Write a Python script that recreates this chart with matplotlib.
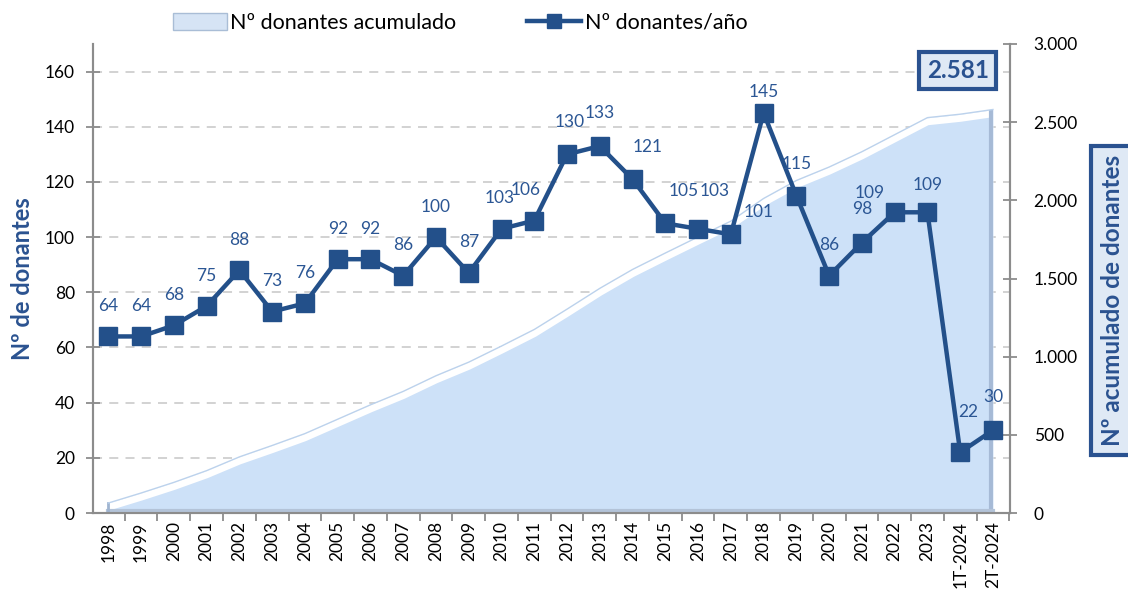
import matplotlib
matplotlib.use("Agg")
import matplotlib.pyplot as plt
import matplotlib.transforms as mtransforms
from matplotlib.lines import Line2D
from matplotlib.patches import Patch
from matplotlib.ticker import FuncFormatter, FixedLocator

plt.rcParams['font.family'] = ['Lato', 'DejaVu Sans']

categories = ['1998', '1999', '2000', '2001', '2002', '2003', '2004', '2005', '2006', '2007',
              '2008', '2009', '2010', '2011', '2012', '2013', '2014', '2015', '2016', '2017',
              '2018', '2019', '2020', '2021', '2022', '2023', '1T-2024', '2T-2024']
donors_per_year = [64, 64, 68, 75, 88, 73, 76, 92, 92, 86, 100, 87, 103, 106, 130, 133, 121,
                   105, 103, 101, 145, 115, 86, 98, 109, 109, 22, 30]
cumulative = []
_s = 0
for v in donors_per_year:
    _s += v
    cumulative.append(_s)
left_ticks = [0, 20, 40, 60, 80, 100, 120, 140, 160]
right_ticks = [0, 500, 1000, 1500, 2000, 2500, 3000]

# label offsets in points (dx, dy) – style only
label_offsets = {12: (-1, 22), 13: (-6, 22), 14: (2, 23), 15: (0, 24), 16: (11, 23),
                 17: (13, 23), 18: (12, 27), 19: (20, 16), 20: (0, 15), 21: (0, 23),
                 23: (0, 24), 24: (-18, 14), 25: (0, 20), 26: (6, 29), 27: (0, 24)}

LINE = '#23508a'
LABEL = '#2b5694'
GRAY = '#8c8c8c'
FILL = '#cde1f8'
DARK = '#2a5290'

fig = plt.figure(figsize=(11.28, 6.01), dpi=100)
ax2 = fig.add_axes([0.0824, 0.1464, 0.8130, 0.7804])
ax = ax2.twinx()
ax.yaxis.tick_left()
ax.yaxis.set_label_position('left')
ax2.yaxis.tick_right()
ax.set_zorder(ax2.get_zorder() + 1)
ax.patch.set_visible(False)

x = list(range(len(categories)))
ax2.set_xlim(-0.47, len(categories) - 0.48)
ax.set_ylim(0, 170)
ax2.set_ylim(0, 3000)

# gridlines at left ticks, drawn on the lower axes (behind the area)
blend = mtransforms.blended_transform_factory(ax2.transAxes, ax.transData)
for t in left_ticks[1:]:
    ax2.plot([0, 1], [t, t], transform=blend, color='#cfcfcf', lw=1.3,
             dashes=(5, 4), zorder=0)

# area
poly = ax2.fill_between(x, 0, cumulative, color=FILL, lw=0, zorder=2)
down = mtransforms.offset_copy(ax2.transData, fig=fig, x=0, y=-3.0, units='points')
wl, = ax2.plot(x, cumulative, color='white', lw=5, transform=down, zorder=3,
               solid_joinstyle='round')
wl.set_clip_path(poly.get_paths()[0], ax2.transData)
ax2.plot(x, cumulative, color='#bcd2ec', lw=1.0, zorder=4)
edge_r, = ax2.plot([x[-1], x[-1]], [0, cumulative[-1]], color='#a6bad6', lw=3, zorder=3,
                   transform=mtransforms.offset_copy(ax2.transData, fig=fig, x=-1.2, y=0,
                                                     units='points'))
edge_r.set_clip_path(poly.get_paths()[0], ax2.transData)
ax2.plot([x[0], x[-1]], [0, 0], color='#b3c3d8', lw=3, zorder=3,
         transform=mtransforms.offset_copy(ax2.transData, fig=fig, x=0, y=1.2, units='points'))
ax2.plot([x[0], x[0]], [0, cumulative[0]], color='#9fb4d0', lw=2, zorder=3)

# line
ax.plot(x, donors_per_year, color=LINE, lw=3.2, marker='s', markersize=13,
        markerfacecolor=LINE, markeredgecolor=LINE, zorder=5, clip_on=False)
for i, v in enumerate(donors_per_year):
    dx, dy = label_offsets.get(i, (0, 22))
    ax.annotate(str(v), (x[i], v), xytext=(dx, dy), textcoords='offset points',
                ha='center', va='center', fontsize=12.5, color=LABEL, zorder=6)

# axes styling
for a in (ax, ax2):
    a.spines['top'].set_visible(False)
    for s in ('left', 'right', 'bottom'):
        a.spines[s].set_color(GRAY)
        a.spines[s].set_linewidth(1.5)

ax.set_yticks(left_ticks)
ax.tick_params(axis='y', direction='inout', length=10, width=1.3, color=GRAY,
               labelsize=12.5, pad=8)
ax2.set_yticks(right_ticks)
ax2.yaxis.set_major_formatter(FuncFormatter(lambda v, p: f'{int(v):,}'.replace(',', '.')))
ax2.tick_params(axis='y', direction='inout', length=10, width=1.3, color=GRAY,
                labelsize=12.5, pad=12)

ax2.set_xticks(x)
ax2.set_xticklabels(categories, rotation=90, fontsize=12.5)
ax2.tick_params(axis='x', which='major', length=0, pad=6)
ax2.xaxis.set_minor_locator(FixedLocator([i - 0.5 for i in range(len(categories) + 1)]))
ax2.tick_params(axis='x', which='minor', direction='out', length=6, width=1.3, color=GRAY)

ax.set_ylabel('Nº de donantes', fontsize=17, fontweight='bold', color=DARK, labelpad=8)

# right label box
fig.text(0.986, 0.50, 'Nº acumulado de donantes', rotation=90, ha='center', va='center',
         fontsize=17.5, fontweight='bold', color=DARK,
         bbox=dict(boxstyle='square,pad=0.38', fc='#dfe9f5', ec=DARK, lw=3))

# total box
fig.text(0.849, 0.883, f'{cumulative[-1]:,}'.replace(',', '.'), ha='center', va='center',
         fontsize=17.5, fontweight='bold', color=DARK,
         bbox=dict(boxstyle='square,pad=0.3', fc='#dfe9f5', ec=DARK, lw=3))

# legend
handles = [Patch(facecolor='#d6e4f5', edgecolor='#a9bdd6', lw=1),
           Line2D([], [], color=LINE, lw=3.2, marker='s', markersize=10)]
fig.legend(handles, ['Nº donantes acumulado', 'Nº donantes/año'], loc='center',
           bbox_to_anchor=(0.408, 0.962), ncol=2, frameon=False, fontsize=15.5,
           handlelength=2.5, handleheight=0.85, handletextpad=0.15, columnspacing=3.3)

fig.savefig('out.png', dpi=100)
